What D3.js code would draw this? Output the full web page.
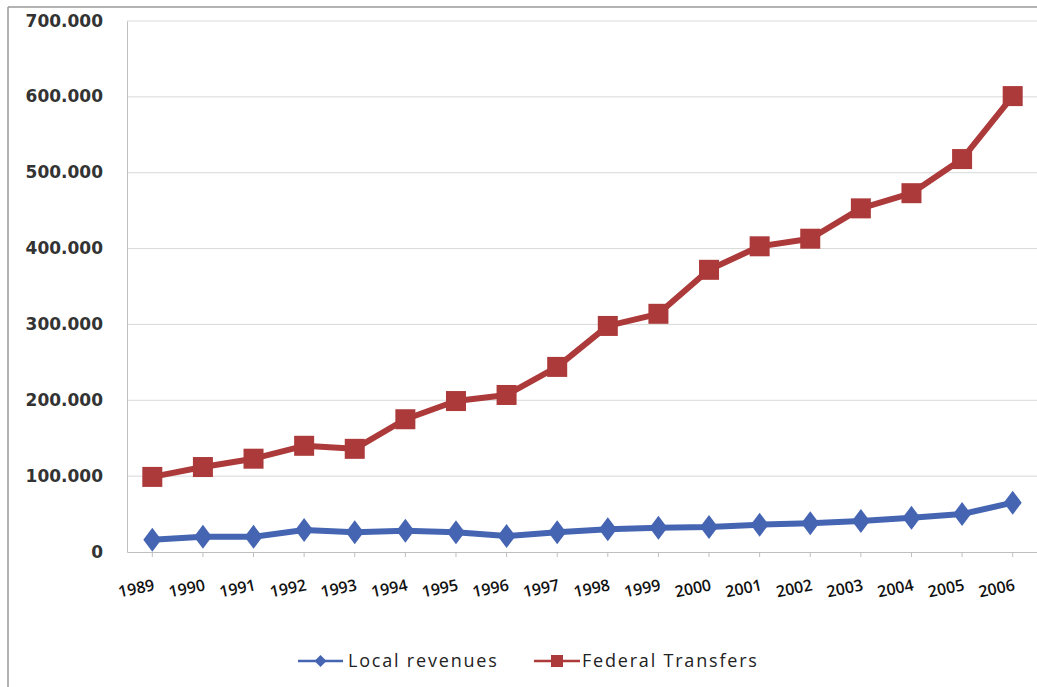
<!DOCTYPE html>
<html>
<head>
<meta charset="utf-8">
<script src="https://cdn.jsdelivr.net/npm/d3@7/dist/d3.min.js"></script>
<style>
  html, body { margin: 0; padding: 0; background: #fff; }
  svg { display: block; }
</style>
</head>
<body>
<svg id="chart" width="1037" height="687"></svg>
<script>
const years = ["1989","1990","1991","1992","1993","1994","1995","1996","1997","1998","1999","2000","2001","2002","2003","2004","2005","2006"];
const localRevenues = [16, 20, 20, 29, 26, 28, 26, 21, 26, 30, 32, 33, 36, 38, 41, 45, 50, 65];
const federalTransfers = [99, 112, 123, 140, 136, 175, 199, 207, 244, 298, 314, 372, 403, 413, 453, 473, 518, 601];
const yTicks = [0, 100, 200, 300, 400, 500, 600, 700];
const yTickLabels = ["0", "100.000", "200.000", "300.000", "400.000", "500.000", "600.000", "700.000"];
const seriesNames = ["Local revenues", "Federal Transfers"];

const svg = d3.select("#chart");
const W = 1037, H = 687;
const plot = { left: 127, right: 1038, top: 21, bottom: 552 };

// outer frame
svg.append("rect").attr("x", 0).attr("y", 0).attr("width", W).attr("height", H).attr("fill", "#fff");
svg.append("line").attr("x1", 8).attr("x2", 8).attr("y1", 7).attr("y2", H).attr("stroke", "#9a9a9a").attr("stroke-width", 1.5);
svg.append("line").attr("x1", 8).attr("x2", W).attr("y1", 7).attr("y2", 7).attr("stroke", "#9a9a9a").attr("stroke-width", 1.5);

const x = d3.scaleBand().domain(years).range([plot.left, plot.right]);
const cx = d => x(d) + x.bandwidth() / 2;
const y = d3.scaleLinear().domain([0, 700]).range([plot.bottom, plot.top]);

// gridlines
svg.append("g").selectAll("line").data(yTicks.filter(t => t > 0)).join("line")
  .attr("x1", plot.left).attr("x2", plot.right)
  .attr("y1", d => y(d)).attr("y2", d => y(d))
  .attr("stroke", "#d9d9d9").attr("stroke-width", 1);

// y axis
const yAxis = d3.axisLeft(y).tickValues(yTicks).tickSize(0).tickPadding(24)
  .tickFormat((d, i) => yTickLabels[i]);
const gy = svg.append("g").attr("transform", `translate(${plot.left},0)`).call(yAxis);
gy.select(".domain").attr("stroke", "#bfbfbf");
gy.selectAll("text").attr("font-family", "'DejaVu Sans', sans-serif").attr("font-size", 17)
  .attr("font-weight", "bold").attr("fill", "#333").attr("dy", "0.3em");

// x axis
const xAxis = d3.axisBottom(x).tickSize(5).tickSizeOuter(0).tickFormat(d => d);
const gx = svg.append("g").attr("transform", `translate(0,${plot.bottom})`).call(xAxis);
gx.select(".domain").attr("stroke", "#bfbfbf");
gx.selectAll(".tick line").attr("stroke", "#bfbfbf");
gx.selectAll("text")
  .attr("font-family", "'Open Sans', sans-serif").attr("font-size", 16).attr("font-weight", 600)
  .attr("fill", "#111")
  .attr("text-anchor", "end")
  .attr("dy", null).attr("y", 0)
  .attr("transform", "translate(3,38) rotate(-12)");

// lines
const line = d3.line().x((d, i) => cx(years[i])).y(d => y(d));
const redC = "#ad3a3a", blueC = "#4565b3";

function drawSeries(data, color, marker) {
  svg.append("path").datum(data).attr("d", line)
    .attr("fill", "none").attr("stroke", color).attr("stroke-width", 6).attr("stroke-linejoin", "round");
  const g = svg.append("g");
  if (marker === "square") {
    g.selectAll("rect").data(data).join("rect")
      .attr("x", (d, i) => cx(years[i]) - 10).attr("y", d => y(d) - 10)
      .attr("width", 20).attr("height", 20).attr("fill", color);
  } else {
    g.selectAll("path").data(data).join("path")
      .attr("d", (d, i) => {
        const px = cx(years[i]), py = y(d);
        return `M${px},${py - 12}L${px + 9},${py}L${px},${py + 12}L${px - 9},${py}Z`;
      })
      .attr("fill", color);
  }
}
drawSeries(localRevenues, blueC, "diamond");
drawSeries(federalTransfers, redC, "square");

// legend
const legend = svg.append("g").attr("font-family", "'Open Sans', sans-serif").attr("font-size", 18).attr("fill", "#222");
const lg1 = legend.append("g").attr("transform", "translate(298,661)");
lg1.append("line").attr("x1", 0).attr("x2", 45).attr("y1", 0).attr("y2", 0).attr("stroke", blueC).attr("stroke-width", 2.5);
lg1.append("path").attr("d", "M22.5,-6L28.5,0L22.5,6L16.5,0Z").attr("fill", blueC);
lg1.append("text").attr("x", 50).attr("y", 6).text(seriesNames[0]).attr("letter-spacing", "1.8");
const lg2 = legend.append("g").attr("transform", "translate(534,661)");
lg2.append("line").attr("x1", 0).attr("x2", 46).attr("y1", 0).attr("y2", 0).attr("stroke", redC).attr("stroke-width", 2.5);
lg2.append("rect").attr("x", 17).attr("y", -6).attr("width", 12).attr("height", 12).attr("fill", redC);
lg2.append("text").attr("x", 48).attr("y", 6).text(seriesNames[1]).attr("letter-spacing", "1.8");
</script>
</body>
</html>
